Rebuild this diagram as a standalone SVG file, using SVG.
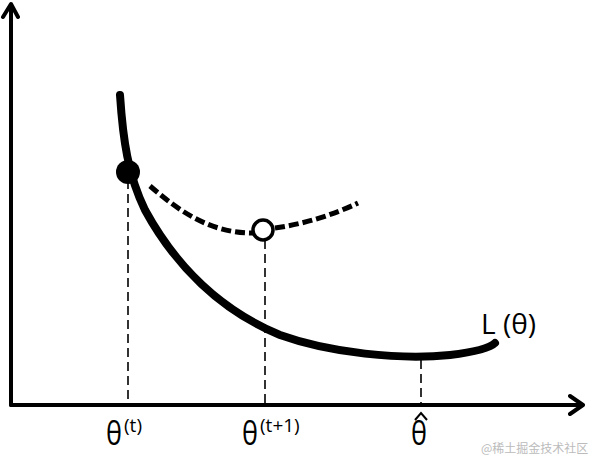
<svg xmlns="http://www.w3.org/2000/svg" width="600" height="462" viewBox="0 0 600 462">
<style>
.ax{fill:none;stroke:#000;stroke-width:4;stroke-linecap:round;stroke-linejoin:round}
.vd{fill:none;stroke:#000;stroke-width:1.6;stroke-dasharray:9,5}
.lbl{font-family:"Open Sans","Liberation Sans",sans-serif;fill:#000}
.th{font-size:33px}
.sup{font-size:19px}
</style>
<rect width="600" height="462" fill="#fff"/>
<g id="axes">
<path class="ax" d="M11,405 L11,5 M3,17 L11,4 L18,17"/>
<path class="ax" d="M11,405 L582,405 M570,396 L583,405 L570,414"/>
</g>
<g id="connectors">
<path class="vd" d="M128,180 L128,405"/>
<path class="vd" d="M265,240 L265,405"/>
<path class="vd" d="M421,360 L421,405"/>
</g>
<g id="curve-L">
<path d="M120,95 C123,140 128,175 145,210 C175,265 220,310 280,335 C330,353 400,360 450,355 C475,352 490,348 495,343" fill="none" stroke="#000" stroke-width="8" stroke-linecap="round"/>
</g>
<g id="curve-Q">
<path d="M150,186 C180,212 212,234 255,233 M275,228 C305,224 335,214 358,203" fill="none" stroke="#000" stroke-width="5" stroke-dasharray="10,4"/>
</g>
<g id="point-t">
<circle cx="128" cy="172" r="12" fill="#000"/>
</g>
<g id="point-t1">
<circle cx="263" cy="230" r="10" fill="#fff" stroke="#000" stroke-width="3.5"/>
</g>
<g id="labels">
<text class="lbl th" transform="translate(106,445) scale(0.82,1)">θ</text>
<text class="lbl sup" x="124" y="432">(t)</text>
<text class="lbl th" transform="translate(242,445) scale(0.82,1)">θ</text>
<text class="lbl sup" x="260" y="432">(t+1)</text>
<text class="lbl th" transform="translate(411,445) scale(0.82,1)">θ</text>
<path d="M415,420 L421,413 L427,420" fill="none" stroke="#000" stroke-width="2"/>
<text class="lbl" x="481" y="334" font-size="28">L (θ)</text>
<text x="481" y="453" font-family="'Noto Sans CJK SC',sans-serif" font-size="12" fill="#bbb">@稀土掘金技术社区</text>
</g>
</svg>
